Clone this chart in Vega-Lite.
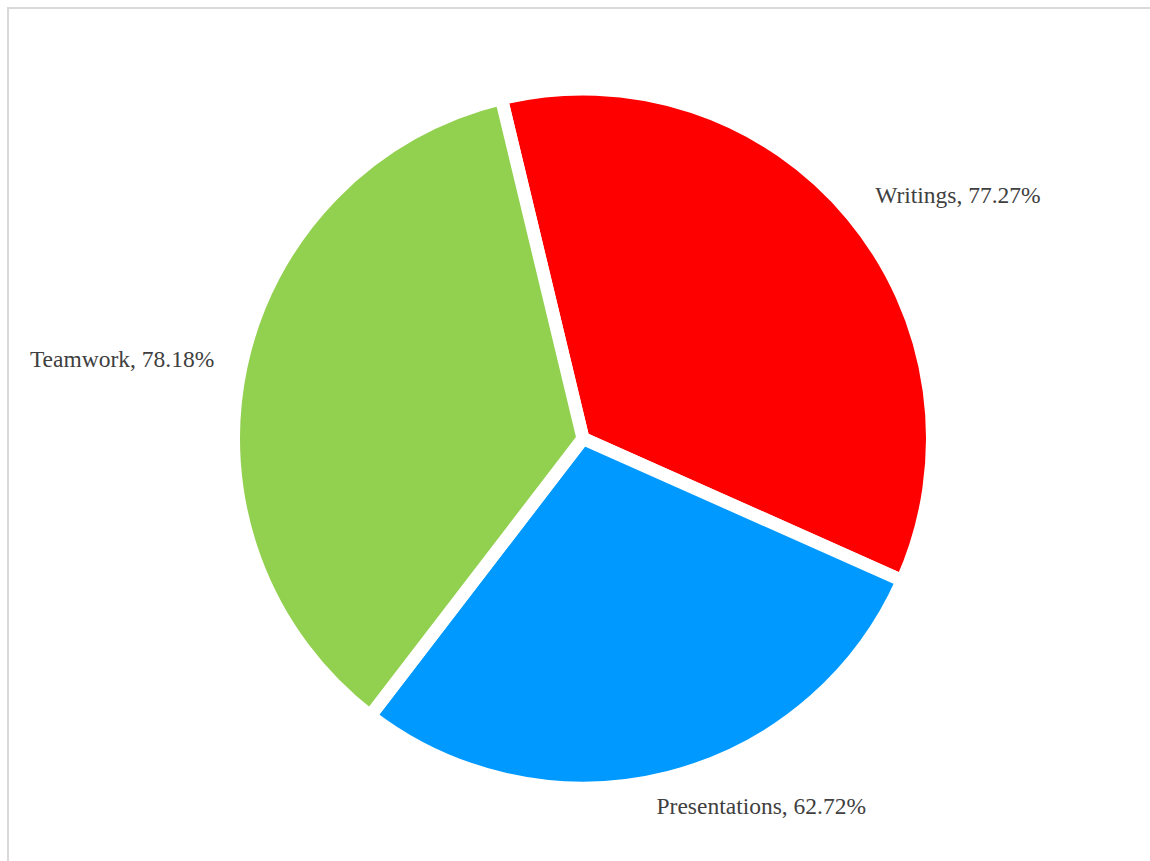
{
  "$schema": "https://vega.github.io/schema/vega-lite/v6.json",
  "width": 1150,
  "height": 861,
  "autosize": {"type": "none"},
  "padding": {"left": 8, "top": 8, "right": 0, "bottom": 0},
  "background": "white",
  "view": {"stroke": "#d9d9d9", "strokeWidth": 2, "fill": "white"},
  "data": {
    "values": [
      {"category": "Writings", "value": 77.27, "order": 1},
      {"category": "Presentations", "value": 62.72, "order": 2},
      {"category": "Teamwork", "value": 78.18, "order": 3}
    ]
  },
  "transform": [
    {"calculate": "datum.category + ', ' + format(datum.value, '.2f') + '%'", "as": "label"}
  ],
  "encoding": {
    "theta": {"field": "value", "type": "quantitative", "stack": true, "scale": {"range": [-0.2356, 6.0476]}},
    "order": {"field": "order", "type": "quantitative"}
  },
  "layer": [
    {
      "mark": {"type": "arc", "outerRadius": 349.5, "stroke": "white", "strokeWidth": 13},
      "encoding": {
        "color": {
          "field": "category",
          "type": "nominal",
          "scale": {"domain": ["Writings", "Presentations", "Teamwork"], "range": ["#FF0000", "#0099FF", "#92D050"]},
          "legend": null
        }
      }
    },
    {
      "mark": {"type": "text", "radius": 380, "align": "left", "baseline": "middle", "font": "Liberation Serif", "fontSize": 23.5, "color": "#404040"},
      "encoding": {
        "text": {"condition": {"test": "datum.category != 'Writings'", "value": ""}, "field": "label"}
      }
    },
    {
      "mark": {"type": "text", "radius": 380, "align": "left", "dx": -20, "baseline": "middle", "font": "Liberation Serif", "fontSize": 23.5, "color": "#404040"},
      "encoding": {
        "text": {"condition": {"test": "datum.category != 'Presentations'", "value": ""}, "field": "label"}
      }
    },
    {
      "mark": {"type": "text", "radius": 377, "align": "right", "baseline": "middle", "font": "Liberation Serif", "fontSize": 23.5, "color": "#404040"},
      "encoding": {
        "text": {"condition": {"test": "datum.category != 'Teamwork'", "value": ""}, "field": "label"}
      }
    }
  ]
}
